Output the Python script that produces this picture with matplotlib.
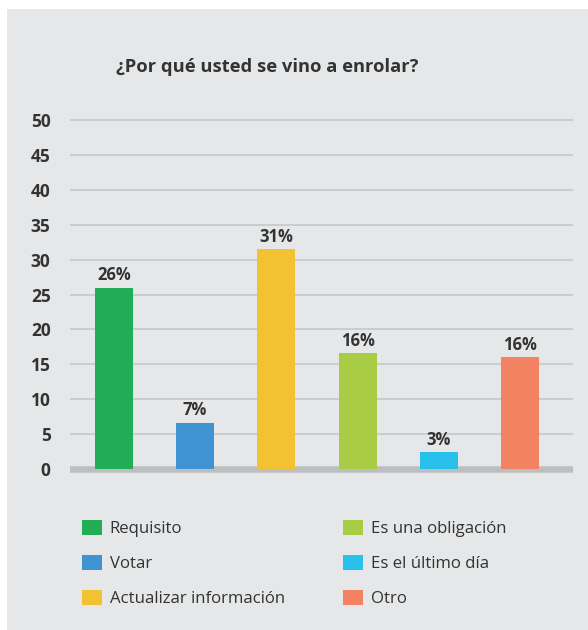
import matplotlib
matplotlib.use("Agg")
import matplotlib.pyplot as plt
from matplotlib.patches import Rectangle, Patch

categories = ["Requisito", "Votar", "Actualizar información",
              "Es una obligación", "Es el último día", "Otro"]
values = [26.0, 6.6, 31.5, 16.6, 2.4, 16.0]
labels = ["26%", "7%", "31%", "16%", "3%", "16%"]
colors = ["#22AC56", "#3F93D0", "#F2C232", "#A8CD44", "#29C0EE", "#F28261"]
yticks = [0, 5, 10, 15, 20, 25, 30, 35, 40, 45, 50]
title = "¿Por qué usted se vino a enrolar?"

W, H = 588, 630
plt.rcParams['font.family'] = ['Open Sans', 'DejaVu Sans']
fig = plt.figure(figsize=(W / 100, H / 100), dpi=100, facecolor="white")

bg = "#E6E7E8"
fig.patches.append(Rectangle((7 / W, 0), (W - 7) / W, (H - 9) / H,
                             transform=fig.transFigure, facecolor=bg,
                             edgecolor="none", zorder=-10))

ax = fig.add_axes([70 / W, (H - 469) / H, (573 - 70) / W, (469 - 120) / H])
ax.set_facecolor(bg)
ax.patch.set_alpha(0)

x = list(range(len(categories)))
bars = ax.bar(x, values, width=0.47, color=colors, zorder=3)
for xi, v, lab in zip(x, values, labels):
    ax.text(xi, v + 0.5, lab, ha="center", va="bottom", fontsize=12,
            fontweight="bold", color="#333333", zorder=4)

ax.set_ylim(0, 50)
ax.set_xlim(-0.54, 5.65)
ax.set_yticks(yticks)
ax.set_yticklabels([str(t) for t in yticks], fontsize=12.5,
                   fontweight="bold", color="#333333")
ax.set_xticks([])
ax.tick_params(axis="y", length=0, pad=14)
for t in ax.get_yticklabels():
    t.set_horizontalalignment("right")
for s in ax.spines.values():
    s.set_visible(False)
for t in yticks[1:]:
    ax.axhline(t, color="#C6C7C9", lw=1.2, zorder=1, clip_on=False,
               solid_capstyle="butt")
ax.axhline(0, color="#BDBEC0", lw=4, zorder=2, clip_on=False,
           solid_capstyle="butt")
ax.axhline(-0.2, color="#BDBEC0", lw=4, zorder=2, clip_on=False,
           solid_capstyle="butt")

fig.text(267 / W, 1 - 67 / H, title, ha="center", va="center",
         fontsize=13.2, fontweight="bold", color="#333333")

handles = [Patch(facecolor=c, edgecolor="none") for c in colors]
fig.legend(handles, categories, loc="upper left",
           bbox_to_anchor=(82 / W, 1 - 520 / H), ncol=2, frameon=False,
           fontsize=12.1, labelcolor="#333333", handlelength=1.2,
           handleheight=1.0, handletextpad=0.45, labelspacing=1.05,
           columnspacing=3.45, borderpad=0, borderaxespad=0)

fig.savefig("out.png", dpi=100, facecolor="white")
